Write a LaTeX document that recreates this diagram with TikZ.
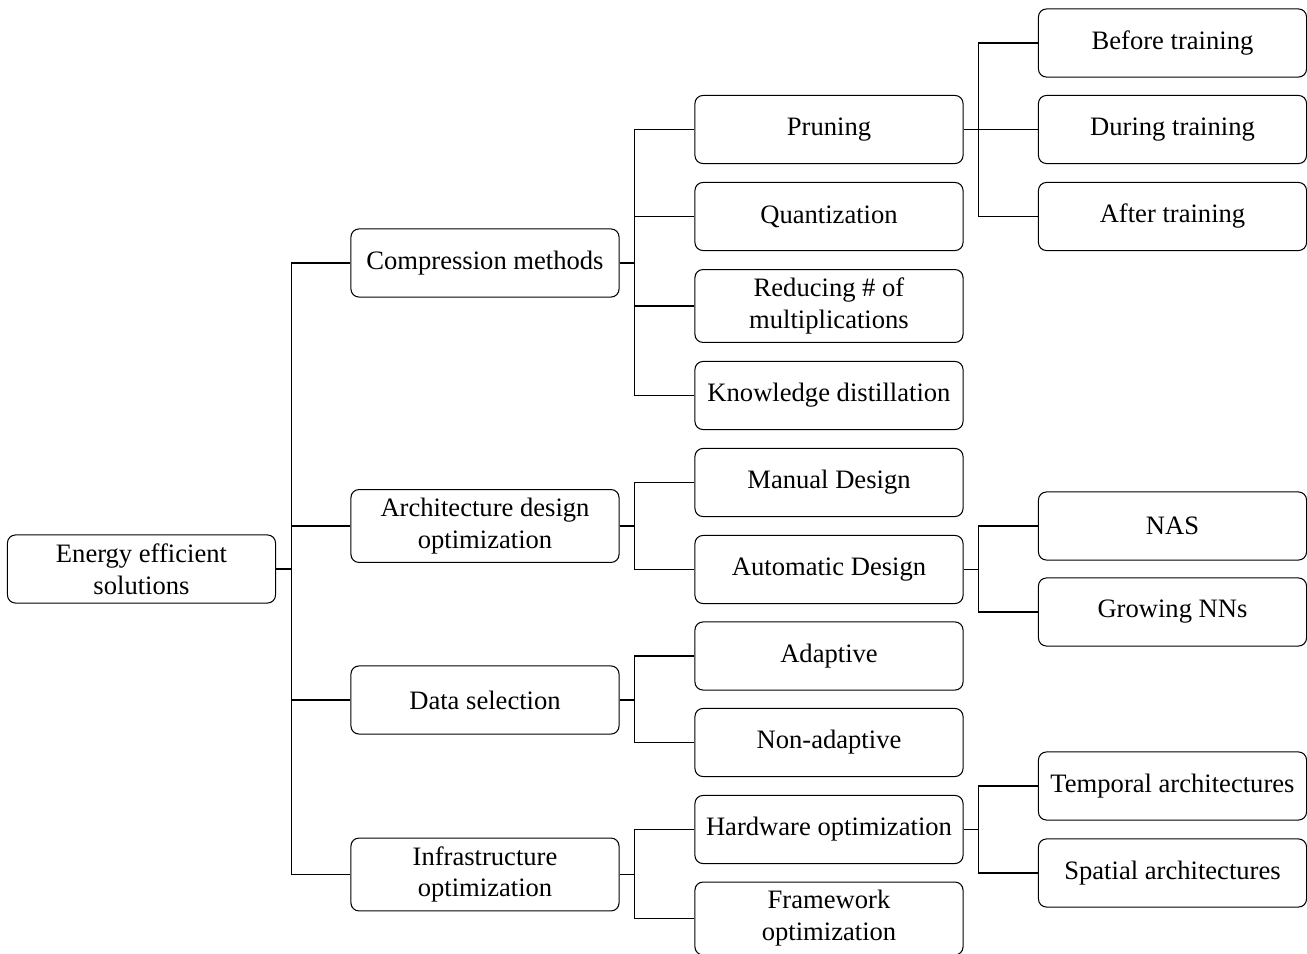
\documentclass[tikz,border=0pt]{standalone}
\usepackage{fontspec}
\setmainfont{Liberation Serif}
\begin{document}
\begin{tikzpicture}[x=0.376pt,y=-0.376pt,
  box/.style={draw,line width=0.4pt,rounded corners=3pt,minimum width=100.8pt,minimum height=25.6pt,
    align=center,inner sep=0pt,font=\fontsize{10}{12}\selectfont},
  tall/.style={minimum height=27.4pt},
  conn/.style={line width=0.4pt}]
\useasboundingbox (0,0) rectangle (1307,954);
% root
\node[box] (root) at (141.5,569) {Energy efficient\\solutions};
% level 1
\node[box] (comp) at (485,263) {Compression methods};
\node[box,tall] (arch) at (485,526) {Architecture design\\optimization};
\node[box] (data) at (485,700) {Data selection};
\node[box,tall] (infra) at (485,874.5) {Infrastructure\\optimization};
% level 2
\node[box] (prun) at (829,129.5) {Pruning};
\node[box] (quant) at (829,216.5) {Quantization};
\node[box,tall] (redu) at (829,306) {Reducing \# of\\multiplications};
\node[box] (know) at (829,395.5) {Knowledge distillation};
\node[box] (manu) at (829,482.5) {Manual Design};
\node[box] (auto) at (829,569.5) {Automatic Design};
\node[box] (adap) at (829,656) {Adaptive};
\node[box] (nonad) at (829,742.5) {Non-adaptive};
\node[box] (hard) at (829,829.5) {Hardware optimization};
\node[box,tall] (frame) at (829,918.5) {Framework\\optimization};
% level 3
\node[box] (before) at (1172.5,43) {Before training};
\node[box] (during) at (1172.5,129.5) {During training};
\node[box] (after) at (1172.5,216.5) {After training};
\node[box] (nas) at (1172.5,526) {NAS};
\node[box] (grow) at (1172.5,612) {Growing NNs};
\node[box] (temp) at (1172.5,786) {Temporal architectures};
\node[box] (spat) at (1172.5,873) {Spatial architectures};
% connectors
\foreach \p/\c in {root/comp,root/arch,root/data,root/infra,
  comp/prun,comp/quant,comp/redu,comp/know,
  arch/manu,arch/auto,data/adap,data/nonad,infra/hard,infra/frame,
  prun/before,prun/during,prun/after,auto/nas,auto/grow,hard/temp,hard/spat}
  \draw[conn] (\p.east) -- ([xshift=5.64pt]\p.east) |- (\c.west);
\end{tikzpicture}
\end{document}
